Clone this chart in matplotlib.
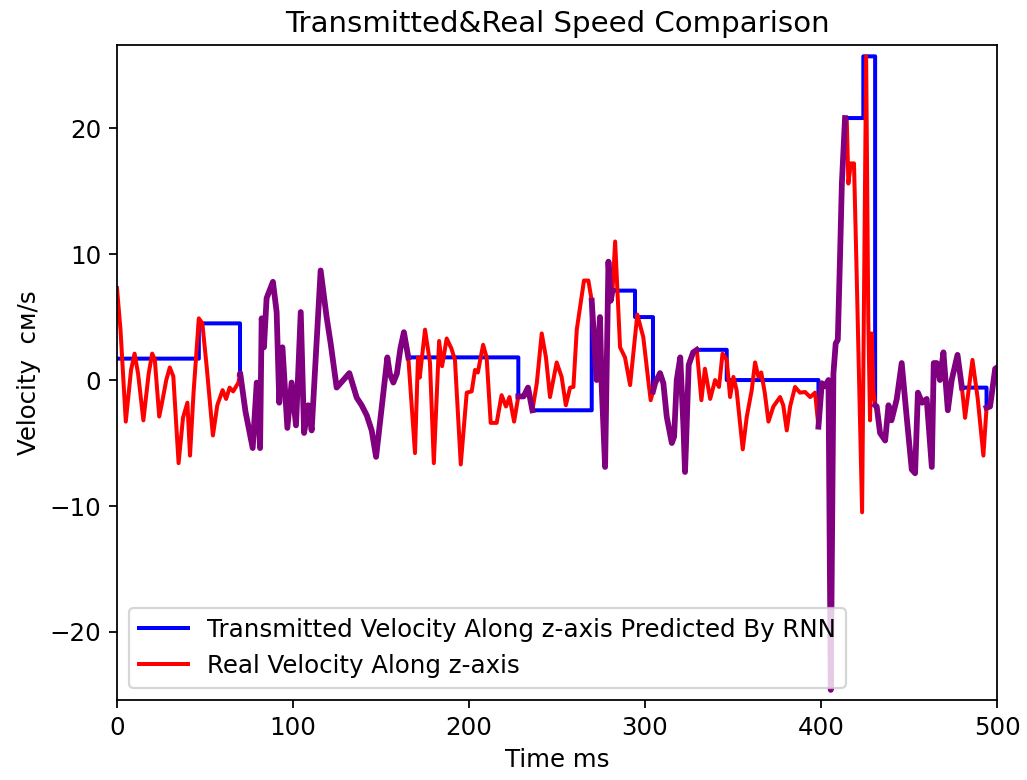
import numpy as np
import matplotlib
matplotlib.use("Agg")
import matplotlib.pyplot as plt

# real velocity along z, time in ms
t_real = [0, 2, 5, 8, 10, 12, 15, 18, 20, 21.5, 24, 26, 28, 30, 32, 35, 37.5, 40, 41.5, 43.5,
          46.5, 48.5, 51, 54.5, 57, 60, 62, 64, 66, 69, 70,
          73, 77.1, 79.4, 81.3, 82.2, 83.5, 85, 88.6, 90.7, 92.2, 94, 96.8, 99.2, 101.7, 104.4,
          106.3, 108.7, 110.6, 113, 115.7, 119.1, 121.4, 124.8, 128.6, 132, 136.2, 139, 141.9,
          144.7, 147.2, 149.8, 153.6, 155, 157, 159, 161, 163, 165.5,
          169.3, 171, 172, 175, 177.8, 180, 183, 184.7, 187.3, 190, 192, 195.3, 198.7, 201.5,
          203.4, 205, 208, 210, 212.3, 215.7, 218.5, 221, 223, 225.6, 228,
          231, 233.5, 236, 238.5, 241.3, 243.7, 246, 249.8, 252.6, 255, 257.4, 259.3, 261.2, 263,
          265.3, 267.8, 269.7, 272.5, 274.4, 275.3, 277.3, 279.2, 280.5, 281.5,
          283, 285.8, 288.6, 291.5, 295.6, 299, 301.8, 303.2, 305.7, 308.5, 310.4, 312.3, 315.2,
          316.5, 318, 320, 321.8, 322.7, 323.3, 324.8, 327.3, 329.4,
          332, 334, 337, 339.8, 342, 344, 346.4, 348.3, 350.2, 352, 355.5, 357.8, 360.6, 362.5,
          364.4, 366, 368, 370.1, 372.9, 376.7, 378.5, 380.5, 382.4, 385.2, 388, 390.9, 393.8,
          396.6, 398.5, 400.4, 402.3, 404.2, 405.5, 407, 408.3, 409.5, 410.8, 411.8, 413.6,
          414.6, 415.5, 416.9, 418.7, 420.2, 423.3, 425.6, 426.8, 427.8, 428.8, 429.7, 430.7,
          431.6, 433.5, 436.4, 438.3, 440, 443, 445.8, 448.6, 451.5, 453.4, 455, 457.4, 460,
          462.9, 464, 465.7, 467.5, 469.5, 472, 474.2, 477.5, 480,
          481.8, 486, 489, 492.2, 494, 496, 498.9, 500]
v_real = [7.3, 4.0, -3.3, 0.8, 2.1, 0.5, -3.2, 0.5, 2.1, 1.6, -2.9, -1.5, 0.0, 1.0, 0.3, -6.6, -3.0, -1.8, -6.0, -1.0,
          4.9, 4.5, 1.0, -4.4, -2.0, -0.8, -1.5, -0.6, -0.9, -0.2, 0.55,
          -2.5, -5.4, -0.2, -5.4, 4.9, 2.6, 6.5, 7.8, 5.4, -1.8, 2.6, -3.8, -0.2, -3.6, 5.4,
          -4.2, -2.0, -4.0, 2.0, 8.7, 5.0, 2.9, -0.6, 0.0, 0.55, -1.4, -2.0, -2.8,
          -4.0, -6.1, -2.9, 1.8, 0.5, -0.2, 0.5, 2.5, 3.8, 1.8,
          -5.8, 1.8, 0.2, 4.0, 1.4, -6.6, 3.1, 1.1, 3.3, 2.5, 1.6, -6.7, -1.0, -0.9,
          0.8, 0.6, 2.8, 1.8, -3.4, -3.4, -1.2, -2.1, -1.35, -3.3, -1.3,
          -1.3, -0.6, -2.4, -0.25, 3.7, 1.8, -1.35, 1.4, 0.25, -2.0, -0.6, -0.55, 4.0, 5.7,
          7.9, 7.9, 6.3, 0.0, 5.0, -0.25, -6.9, 9.4, 6.3, 7.1,
          11.0, 2.6, 1.8, -0.4, 5.2, 3.4, 0.0, -1.6, -0.25, 0.55, -0.25, -2.9, -5.0,
          -4.5, 0.0, 1.8, -3.7, -7.3, -5.0, 1.2, 2.2, 2.4,
          -1.6, 0.9, -1.5, 0.0, -0.55, 2.1, 1.6, -1.35, 0.25, -0.8, -5.5, -2.9, -0.8, 1.4,
          0.25, 0.6, -1.0, -3.3, -2.1, -1.35, -2.0, -4.0, -2.1, -0.55, -1.0, -0.95, -1.35,
          -1.0, -3.7, -0.25, -0.5, 0.0, -24.6, 0.5, 2.9, 3.2, 10.0, 15.6, 20.8,
          20.6, 15.6, 17.2, 17.2, 8.5, -10.5, 25.7, 5.0, -3.2, 3.7, -0.8, -2.0,
          -2.1, -4.2, -4.8, -2.0, -3.2, -1.5, 1.35, -2.9, -7.1, -7.4, -1.0, -1.8, -1.5,
          -6.9, 1.35, 1.35, 0.0, 2.2, -2.4, 0.0, 2.0, -0.6,
          -3.0, 1.6, -1.5, -6.0, -2.2, -2.1, 0.9, 1.0]

# intervals where the transmitted value was held (start ms, end ms, held velocity)
hold_start = [0, 46.5, 165.5, 236, 281.5, 294.3, 329.4, 346.4, 413.6, 424, 480]
hold_end = [46.5, 69.9, 228, 269.7, 294.3, 304.5, 346.4, 398.5, 424, 430.7, 494]
hold_level = [1.7, 4.5, 1.8, -2.4, 7.1, 5.0, 2.4, 0.0, 20.8, 25.7, -0.6]

t_real = np.array(t_real)
v_real = np.array(v_real)


def live_piece(a, b):
    inner = (t_real > a) & (t_real < b)
    tt = np.concatenate([[a], t_real[inner], [b]])
    vv = np.concatenate([[np.interp(a, t_real, v_real)], v_real[inner], [np.interp(b, t_real, v_real)]])
    return tt, vv


# build transmitted line (blue) and the matching parts (purple)
blue_t, blue_v = [], []
pur_t, pur_v = [], []
cursor = 0.0
for s, e, lvl in zip(hold_start, hold_end, hold_level):
    if s > cursor:
        tt, vv = live_piece(cursor, s)
        blue_t += list(tt); blue_v += list(vv)
        pur_t += list(tt) + [np.nan]; pur_v += list(vv) + [np.nan]
    blue_t += [s, e]; blue_v += [lvl, lvl]
    cursor = e
if cursor < 500:
    tt, vv = live_piece(cursor, 500)
    blue_t += list(tt); blue_v += list(vv)
    pur_t += list(tt); pur_v += list(vv)

plt.rcParams['font.size'] = 11

fig = plt.figure(figsize=(1027 / 160, 780 / 160), dpi=160)
ax = fig.add_axes([0.1139, 0.1026, 0.857, 0.8397])

ax.plot(blue_t, blue_v, color='blue', linewidth=1.8, label='Transmitted Velocity Along z-axis Predicted By RNN')
ax.plot(t_real, v_real, color='red', linewidth=1.8, label='Real Velocity Along z-axis')
ax.plot(pur_t, pur_v, color='purple', linewidth=2.6)

ax.set_xlim(0, 500)
ax.set_ylim(-25.4, 26.6)
ax.set_title('Transmitted&Real Speed Comparison', fontsize=13.2)
ax.set_xlabel('Time ms')
ax.set_ylabel('Velocity  см/s')
ax.legend(loc='lower left')

fig.savefig('out.png', dpi=160)
